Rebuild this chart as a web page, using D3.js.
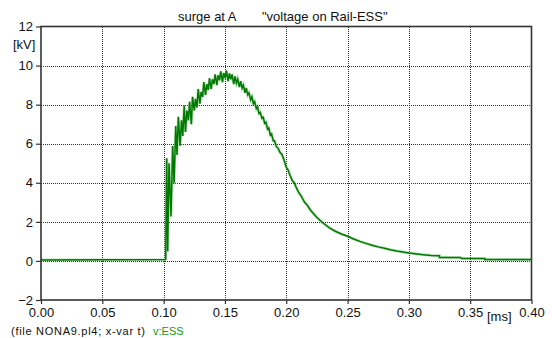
<!DOCTYPE html>
<html>
<head>
<meta charset="utf-8">
<script src="https://cdn.jsdelivr.net/npm/d3@7/dist/d3.min.js"></script>
<style>
  html, body { margin: 0; padding: 0; background: #fff; }
  svg { display: block; font-family: "Liberation Sans", Arial, sans-serif; }
</style>
</head>
<body>
<svg id="chart" width="552" height="338"></svg>
<script>
// Sampled trace of v:ESS (time in ms, voltage in kV)
const timeMs = [
  0.000, 0.1015, 0.1017, 0.1025, 0.1033, 0.1044, 0.1060, 0.1074, 0.1085, 0.1099,
  0.1109, 0.1120, 0.1134, 0.1146, 0.1156, 0.1168, 0.1178, 0.1190, 0.1202, 0.1212,
  0.1226, 0.1236, 0.1250, 0.1260, 0.1272, 0.1282, 0.1296, 0.1306, 0.1318, 0.1328,
  0.1342, 0.1352, 0.1364, 0.1374, 0.1388, 0.1398, 0.1410, 0.1420, 0.1434, 0.1444,
  0.1456, 0.1466, 0.1480, 0.1490, 0.1502, 0.1512, 0.1526, 0.1536, 0.1548, 0.1558,
  0.1572, 0.1582, 0.1594, 0.1604, 0.1618, 0.1628, 0.1640, 0.1650, 0.1664, 0.1674,
  0.1686, 0.1696, 0.1710, 0.1720, 0.1732, 0.1742, 0.1756, 0.1766, 0.1778, 0.1788,
  0.1802, 0.1812, 0.1824, 0.1834, 0.1848, 0.1858, 0.1870, 0.1880, 0.1894, 0.1904,
  0.1920, 0.1935, 0.1950, 0.1965, 0.1980, 0.2000, 0.2015, 0.2030, 0.2050, 0.2065,
  0.2080, 0.2100, 0.2120, 0.2150, 0.2170, 0.2200, 0.2225, 0.2250, 0.2275, 0.2300,
  0.2350, 0.2400, 0.2450, 0.2500, 0.2550, 0.2600, 0.2650, 0.2700, 0.2750, 0.2800,
  0.2850, 0.2900, 0.2950, 0.3000, 0.3100, 0.3180, 0.3249, 0.3250, 0.3420, 0.3430,
  0.3619, 0.3620, 0.4000
];
const voltageKv = [
  0.05, 0.07, 0.10, 5.25, 0.49, 5.00, 2.28, 5.88, 3.98, 6.90,
  5.42, 7.38, 5.90, 7.20, 6.40, 7.95, 6.60, 7.70, 7.20, 8.15,
  7.00, 8.40, 7.70, 8.30, 7.85, 8.80, 8.05, 8.65, 8.40, 9.15,
  8.50, 9.05, 8.75, 9.35, 8.80, 9.30, 9.05, 9.55, 9.00, 9.50,
  9.25, 9.70, 9.15, 9.62, 9.35, 9.74, 9.20, 9.60, 9.30, 9.55,
  9.05, 9.45, 9.10, 9.30, 8.90, 9.20, 8.85, 9.00, 8.60, 8.85,
  8.50, 8.60, 8.25, 8.40, 8.05, 8.15, 7.80, 7.90, 7.55, 7.60,
  7.30, 7.35, 7.05, 7.10, 6.75, 6.80, 6.45, 6.50, 6.15, 6.15,
  5.85, 5.75, 5.55, 5.45, 5.20, 4.80, 4.65, 4.40, 4.10, 4.00,
  3.78, 3.52, 3.34, 3.00, 2.86, 2.58, 2.40, 2.22, 2.08, 1.94,
  1.70, 1.52, 1.38, 1.26, 1.12, 1.00, 0.90, 0.80, 0.72, 0.65,
  0.57, 0.51, 0.46, 0.41, 0.33, 0.28, 0.27, 0.18, 0.17, 0.13,
  0.12, 0.07, 0.07
];

const xTicks = [0, 0.05, 0.10, 0.15, 0.20, 0.25, 0.30, 0.35, 0.40];
const yTicks = [-2, 0, 2, 4, 6, 8, 10, 12];
const gridX = [0.05, 0.10, 0.15, 0.20, 0.25, 0.30, 0.35];
const gridY = [0, 2, 4, 6, 8, 10];

const titleParts = ["surge at A", "\"voltage on Rail-ESS\""];
const xUnit = "[ms]";
const yUnit = "[kV]";
const footerFile = "(file NONA9.pl4; x-var t)";
const footerVar = "v:ESS";

const plot = { left: 41, right: 531.5, top: 26.5, bottom: 300 };

const svg = d3.select("#chart");
const x = d3.scaleLinear().domain([0, 0.4]).range([plot.left, plot.right]);
const y = d3.scaleLinear().domain([-2, 12]).range([plot.bottom, plot.top]);

// dotted grid
const grid = svg.append("g").attr("stroke", "#333").attr("stroke-width", 1)
  .attr("stroke-dasharray", "1,1").attr("shape-rendering", "crispEdges");
grid.selectAll("line.gx").data(gridX).join("line").attr("class", "gx")
  .attr("x1", d => Math.round(x(d)) + 0.5).attr("x2", d => Math.round(x(d)) + 0.5)
  .attr("y1", plot.top).attr("y2", plot.bottom);
grid.selectAll("line.gy").data(gridY).join("line").attr("class", "gy")
  .attr("y1", d => Math.round(y(d)) + 0.5).attr("y2", d => Math.round(y(d)) + 0.5)
  .attr("x1", plot.left).attr("x2", plot.right);

// trace: soft halo under a darker core line
const pts = timeMs.map((t, i) => [t, voltageKv[i]]);
const line = d3.line().x(d => x(d[0])).y(d => y(d[1]));
svg.append("path").datum(pts)
  .attr("d", line)
  .attr("fill", "none")
  .attr("stroke", "#5cb85c").attr("stroke-opacity", 0.45)
  .attr("stroke-width", 2.8).attr("stroke-linejoin", "miter");
svg.append("path").datum(pts)
  .attr("d", line)
  .attr("fill", "none")
  .attr("stroke", "#007a00")
  .attr("stroke-width", 1.5).attr("stroke-linejoin", "miter");

// axes
const fontSize = 13;
const yAxis = svg.append("g").attr("transform", `translate(${plot.left},0)`)
  .call(d3.axisLeft(y).tickValues(yTicks).tickFormat(d3.format("d"))
    .tickSize(5).tickPadding(3).tickSizeOuter(0));
const xAxis = svg.append("g").attr("transform", `translate(0,${plot.bottom})`)
  .call(d3.axisBottom(x).tickValues(xTicks).tickFormat(d3.format(".2f"))
    .tickSize(4).tickPadding(4).tickSizeOuter(0));
[yAxis, xAxis].forEach(a => {
  a.select(".domain").remove();
  a.selectAll(".tick line").attr("stroke", "#333").attr("stroke-width", 1.2);
  a.selectAll(".tick text").attr("font-size", fontSize).attr("fill", "#111")
    .attr("font-family", "\"Liberation Sans\", Arial, sans-serif");
});

// frame
svg.append("rect")
  .attr("x", plot.left).attr("y", plot.top)
  .attr("width", plot.right - plot.left).attr("height", plot.bottom - plot.top)
  .attr("fill", "none").attr("stroke", "#333").attr("stroke-width", 1.6);

// unit labels
svg.append("text").attr("x", 13).attr("y", 49)
  .attr("font-size", fontSize).attr("fill", "#111").text(yUnit);
svg.append("text").attr("x", 487).attr("y", 321)
  .attr("font-size", fontSize).attr("fill", "#111").text(xUnit);

// title
const title = svg.append("text").attr("y", 21).attr("font-size", fontSize).attr("fill", "#111");
title.append("tspan").attr("x", 178).text(titleParts[0]);
title.append("tspan").attr("x", 262).text(titleParts[1]);

// footer
svg.append("text").attr("x", 11).attr("y", 335)
  .attr("font-size", 11).attr("fill", "#111")
  .attr("textLength", 134).attr("lengthAdjust", "spacing").text(footerFile);
svg.append("text").attr("x", 153).attr("y", 335)
  .attr("font-size", 11).attr("fill", "#129a12").text(footerVar);
</script>
</body>
</html>
